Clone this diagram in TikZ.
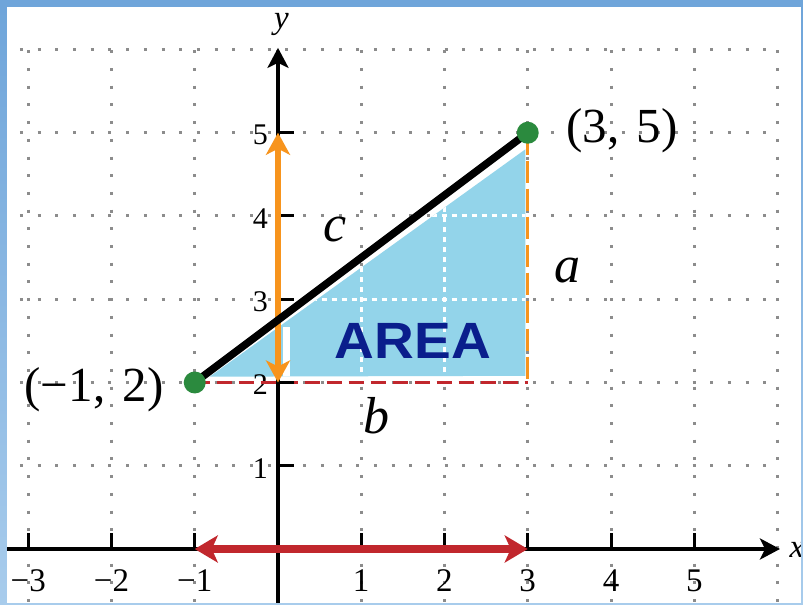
\documentclass[tikz,border=0pt]{standalone}
\usepackage{fontspec}
\setmainfont{Liberation Serif}
\newfontfamily\areafont{Liberation Sans}
\usetikzlibrary{arrows.meta}
\definecolor{gridgray}{HTML}{8C8C8C}
\definecolor{areablue}{HTML}{93D4EA}
\definecolor{areatext}{HTML}{0A1E8C}
\definecolor{orangeA}{HTML}{F7941D}
\definecolor{redA}{HTML}{C1272D}
\definecolor{greenA}{HTML}{2B8A3E}
\definecolor{frameA}{HTML}{6FA5DA}
\definecolor{frameB}{HTML}{A8CCEC}
\tikzset{
  gridline/.style={gridgray, line width=3bp, dash pattern=on 3bp off 14.7bp},
  gridwhite/.style={white, line width=3bp, dash pattern=on 5bp off 5bp},
  axisline/.style={black, line width=3.5bp, -{Stealth[length=20bp,width=21bp,inset=5bp]}},
  tickmark/.style={black, line width=3bp},
  xlab/.style={anchor=base, inner sep=0pt, font=\fontsize{33bp}{36bp}\selectfont},
  ylab/.style={anchor=east, inner sep=0pt, font=\fontsize{30bp}{33bp}\selectfont},
  axislab/.style={anchor=base, inner sep=0pt, font=\fontsize{33bp}{36bp}\selectfont\itshape},
  sidelab/.style={anchor=base, inner sep=0pt, font=\fontsize{52bp}{56bp}\selectfont\itshape},
  ptlab/.style={anchor=base, inner sep=0pt, font=\fontsize{49bp}{54bp}\selectfont},
  arealab/.style={anchor=base, inner sep=0pt, areatext, xscale=1.08, font=\fontsize{51bp}{55bp}\areafont\bfseries},
  redarrow/.style={redA, line width=7.5bp, {Stealth[length=23bp,width=27bp,inset=6bp]}-{Stealth[length=23bp,width=27bp,inset=6bp]}},
  orangearrow/.style={orangeA, line width=6bp, {Stealth[length=22bp,width=24bp,inset=6bp]}-{Stealth[length=22bp,width=24bp,inset=6bp]}},
  reddash/.style={redA, line width=3.5bp, dash pattern=on 15bp off 7bp},
  orangedash/.style={orangeA, line width=3.5bp, dash pattern=on 22bp off 6bp},
  hypot/.style={black, line width=7.5bp},
  dotnode/.style={circle, fill=greenA, minimum size=22bp, inner sep=0pt}
}
\begin{document}
\begin{tikzpicture}[x=83.25bp,y=83.25bp]
\useasboundingbox (-3.3393,-0.6727) rectangle (6.3063,6.5946);
\fill[white] (-3.3393,-0.6727) rectangle (6.3063,6.5946);
% grid
\foreach \i in {-3,...,6} \draw[gridline] (\i,5.99) -- (\i,-0.68);
\foreach \j in {1,...,6} \draw[gridline] (-3.1,\j) -- (6.0,\j);
% area fill
\fill[areablue] (-0.82,2.07) -- (2.97,4.80) -- (2.97,2.08) -- cycle;
\begin{scope}
\clip (-0.82,2.07) -- (2.97,4.80) -- (2.97,2.08) -- cycle;
\draw[gridwhite] (1,-1) -- (1,6) (2,-1) -- (2,6) (-3.2,3) -- (6,3) (-3.2,4) -- (6,4);
\fill[white] (0.06,2.0) rectangle (0.14,2.67);
\end{scope}
% coordinates
\coordinate (P) at (-1,2);
\coordinate (Q) at (3,5);
\coordinate (R) at (3,2);
\coordinate (xs) at (-3.26,0);
\coordinate (xe) at (6.03,0);
\coordinate (ys) at (0,-0.68);
\coordinate (ye) at (0,6.02);
\coordinate (xm1) at (-1,0);
\coordinate (xp3) at (3,0);
\coordinate (y2) at (0,2);
\coordinate (y5) at (0,5);
% tick labels
\foreach \i/\t in {-3/−3,-2/−2,-1/−1,1/1,2/2,3/3,4/4,5/5}
  \node[xlab] (xl\i) at (\i,-0.516) {\t};
\foreach \j in {1,...,5}
  \node[ylab] (yl\j) at (-0.12,\j-0.03) {\j};
% dashed legs
\draw[reddash] (P) -- (R);
\draw[orangedash] (Q) -- (R);
% axes and ticks
\draw[axisline] (xs) -- (xe);
\draw[axisline] (ys) -- (ye);
\foreach \i in {-3,-2,-1,1,2,3,4,5} \draw[tickmark] (\i,0) -- (\i,0.19);
\foreach \j in {1,...,5} \draw[tickmark] (0,\j) -- (0.19,\j);
% arrows
\draw[redarrow] (xm1) -- (xp3);
\draw[orangearrow] (y2) -- (y5);
% hypotenuse
\draw[hypot] (P) -- (Q);
\node[dotnode] (dP) at (P) {};
\node[dotnode] (dQ) at (Q) {};
% labels
\node[ptlab] (lQ) at (4.132,4.877) {(3,\hspace{0.35em}5)};
\node[ptlab] (lP) at (-2.21,1.766) {(−1,\hspace{0.35em}2)};
\node[sidelab] (lc) at (0.685,3.688) {c};
\node[sidelab] (la) at (3.483,3.207) {a};
\node[sidelab] (lb) at (1.189,1.393) {b};
\node[arealab] (area) at (1.622,2.288) {AREA};
\node[axislab] (ly) at (0.04,6.258) {y};
\node[axislab] (lx) at (6.234,-0.108) {x};
% frame
\fill[frameA] (-3.3393,6.5105) rectangle (6.3063,6.5946);
\shade[top color=frameA, bottom color=frameB] (-3.3393,-0.6727) rectangle (-3.2553,6.5105);
\shade[top color=frameA, bottom color=frameB] (6.2823,-0.6727) rectangle (6.3063,6.5105);
\fill[frameB] (-3.3393,-0.6727) rectangle (6.3063,-0.6486);
\end{tikzpicture}
\end{document}
